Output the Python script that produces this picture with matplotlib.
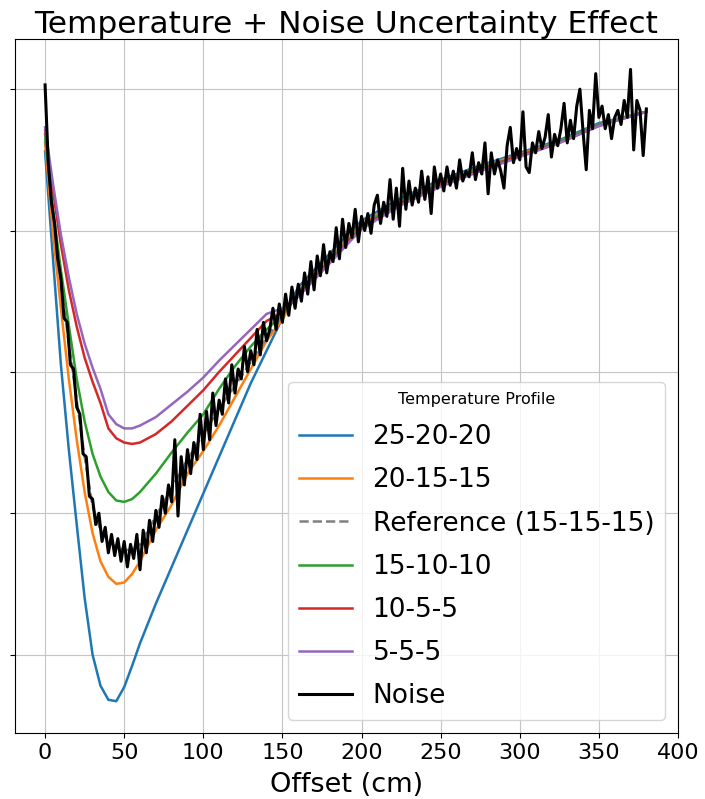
import matplotlib
matplotlib.use("Agg")
import matplotlib.pyplot as plt
import numpy as np

# Offsets (cm) where the smooth profiles were read
OFFSET = [0, 5, 10, 15, 20, 25, 30, 35, 40, 45, 50, 55, 60, 70, 80, 90, 100,
          110, 120, 130, 140, 150, 160, 175, 200, 225, 250, 275, 300, 325,
          350, 380]

PROFILE_25_20_20 = [4.56, 3.80, 3.05, 2.45, 1.92, 1.40, 1.00, 0.78, 0.68, 0.67,
                    0.77, 0.92, 1.08, 1.36, 1.62, 1.88, 2.14, 2.40, 2.66, 2.92,
                    3.15, 3.38, 3.60, 3.78, 4.07, 4.23, 4.36, 4.46, 4.55, 4.64,
                    4.76, 4.84]
PROFILE_20_15_15 = [4.62, 3.98, 3.45, 2.95, 2.52, 2.15, 1.86, 1.66, 1.55, 1.50,
                    1.51, 1.57, 1.66, 1.88, 2.06, 2.28, 2.44, 2.62, 2.82, 3.02,
                    3.22, 3.37, 3.57, 3.75, 4.05, 4.21, 4.34, 4.45, 4.54, 4.63,
                    4.75, 4.84]
PROFILE_REF = [4.65, 4.12, 3.62, 3.20, 2.80, 2.40, 2.05, 1.88, 1.80, 1.76,
               1.74, 1.74, 1.78, 1.98, 2.18, 2.38, 2.56, 2.74, 2.90, 3.07,
               3.24, 3.40, 3.56, 3.74, 4.04, 4.21, 4.34, 4.45, 4.54, 4.63,
               4.75, 4.84]
PROFILE_15_10_10 = [4.68, 4.15, 3.72, 3.33, 2.95, 2.65, 2.42, 2.26, 2.15, 2.09,
                    2.08, 2.10, 2.15, 2.28, 2.43, 2.57, 2.70, 2.88, 3.04, 3.18,
                    3.30, 3.40, 3.55, 3.73, 4.03, 4.20, 4.33, 4.44, 4.53, 4.63,
                    4.75, 4.84]
PROFILE_10_5_5 = [4.71, 4.28, 3.90, 3.58, 3.32, 3.10, 2.93, 2.78, 2.60, 2.53,
                  2.50, 2.49, 2.50, 2.56, 2.65, 2.76, 2.87, 3.00, 3.12, 3.24,
                  3.36, 3.42, 3.54, 3.72, 4.02, 4.19, 4.32, 4.43, 4.53, 4.62,
                  4.74, 4.84]
PROFILE_5_5_5 = [4.73, 4.33, 3.97, 3.67, 3.41, 3.20, 3.03, 2.88, 2.70, 2.63,
                 2.60, 2.60, 2.62, 2.68, 2.77, 2.86, 2.96, 3.08, 3.19, 3.30,
                 3.41, 3.45, 3.53, 3.71, 4.01, 4.18, 4.31, 4.42, 4.52, 4.62,
                 4.74, 4.84]

# Noisy reference, sampled every 2 cm
NOISE_X = np.arange(0, 382, 2)
NOISE = [5.03, 4.48, 4.20, 4.05, 3.80, 3.66, 3.38, 3.35, 3.05, 3.02,
         2.75, 2.70, 2.42, 2.40, 2.12, 2.10, 1.92, 2.00, 1.80, 1.90,
         1.72, 1.85, 1.70, 1.82, 1.66, 1.80, 1.62, 1.78, 1.68, 1.85,
         1.60, 1.88, 1.72, 1.95, 1.80, 2.02, 1.90, 2.12, 2.00, 2.20,
         2.08, 2.52, 1.98, 2.40, 2.20, 2.45, 2.28, 2.50, 2.38, 2.70,
         2.45, 2.72, 2.52, 2.85, 2.62, 2.80, 2.70, 2.95, 2.78, 3.05,
         2.85, 3.02, 2.95, 3.18, 3.00, 3.15, 3.05, 3.30, 3.12, 3.35,
         3.22, 3.30, 3.45, 3.30, 3.48, 3.35, 3.55, 3.40, 3.60, 3.45,
         3.62, 3.50, 3.70, 3.55, 3.78, 3.58, 3.82, 3.68, 3.90, 3.70,
         3.85, 3.78, 4.02, 3.80, 4.08, 3.88, 4.05, 3.95, 4.15, 3.92,
         4.10, 4.00, 4.12, 3.98, 4.18, 4.25, 4.05, 4.20, 4.10, 4.36,
         4.08, 4.30, 4.03, 4.44, 4.15, 4.35, 4.18, 4.30, 4.20, 4.42,
         4.22, 4.38, 4.12, 4.45, 4.30, 4.40, 4.28, 4.45, 4.32, 4.42,
         4.30, 4.50, 4.35, 4.42, 4.38, 4.55, 4.36, 4.48, 4.40, 4.62,
         4.26, 4.55, 4.40, 4.50, 4.42, 4.30, 4.60, 4.73, 4.48, 4.58,
         4.50, 4.84, 4.45, 4.41, 4.62, 4.55, 4.70, 4.58, 4.66, 4.82,
         4.52, 4.68, 4.60, 4.72, 4.90, 4.62, 4.78, 4.65, 4.88, 5.00,
         4.70, 4.43, 4.85, 4.72, 5.11, 4.80, 4.88, 4.72, 4.82, 4.65,
         4.80, 4.85, 4.75, 4.92, 4.80, 5.14, 4.57, 4.92, 4.85, 4.53,
         4.86]

PROFILES = [
    ("25-20-20", PROFILE_25_20_20, "#1f77b4", "-"),
    ("20-15-15", PROFILE_20_15_15, "#ff7f0e", "-"),
    ("Reference (15-15-15)", PROFILE_REF, "gray", "--"),
    ("15-10-10", PROFILE_15_10_10, "#2ca02c", "-"),
    ("10-5-5", PROFILE_10_5_5, "#d62728", "-"),
    ("5-5-5", PROFILE_5_5_5, "#9467bd", "-"),
]


def main() -> None:
    fig = plt.figure(figsize=(7.05, 7.99), dpi=100)
    ax = fig.add_axes([0.0213, 0.0826, 0.9404, 0.8686])

    for label, values, color, ls in PROFILES:
        ax.plot(OFFSET, values, color=color, linestyle=ls, linewidth=1.8,
                label=label)
    ax.plot(NOISE_X, NOISE, color="black", linewidth=2.2, label="Noise")

    ax.set_xlim(-19, 400)
    ax.set_ylim(0.445, 5.355)
    ax.set_xticks(np.arange(0, 401, 50))
    ax.set_yticks([1, 2, 3, 4, 5])
    ax.set_yticklabels([])
    ax.tick_params(axis="x", labelsize=16)
    ax.grid(True, color="#c4c4c4")

    ax.set_title("Temperature + Noise Uncertainty Effect", fontsize=22.5,
                 pad=2)
    ax.set_xlabel("Offset (cm)", fontsize=19.5, labelpad=7)

    ax.legend(title="Temperature Profile", fontsize=19, title_fontsize=11.5,
              labelspacing=0.65, loc="lower right")

    fig.savefig("out.png", dpi=100)


if __name__ == "__main__":
    main()
